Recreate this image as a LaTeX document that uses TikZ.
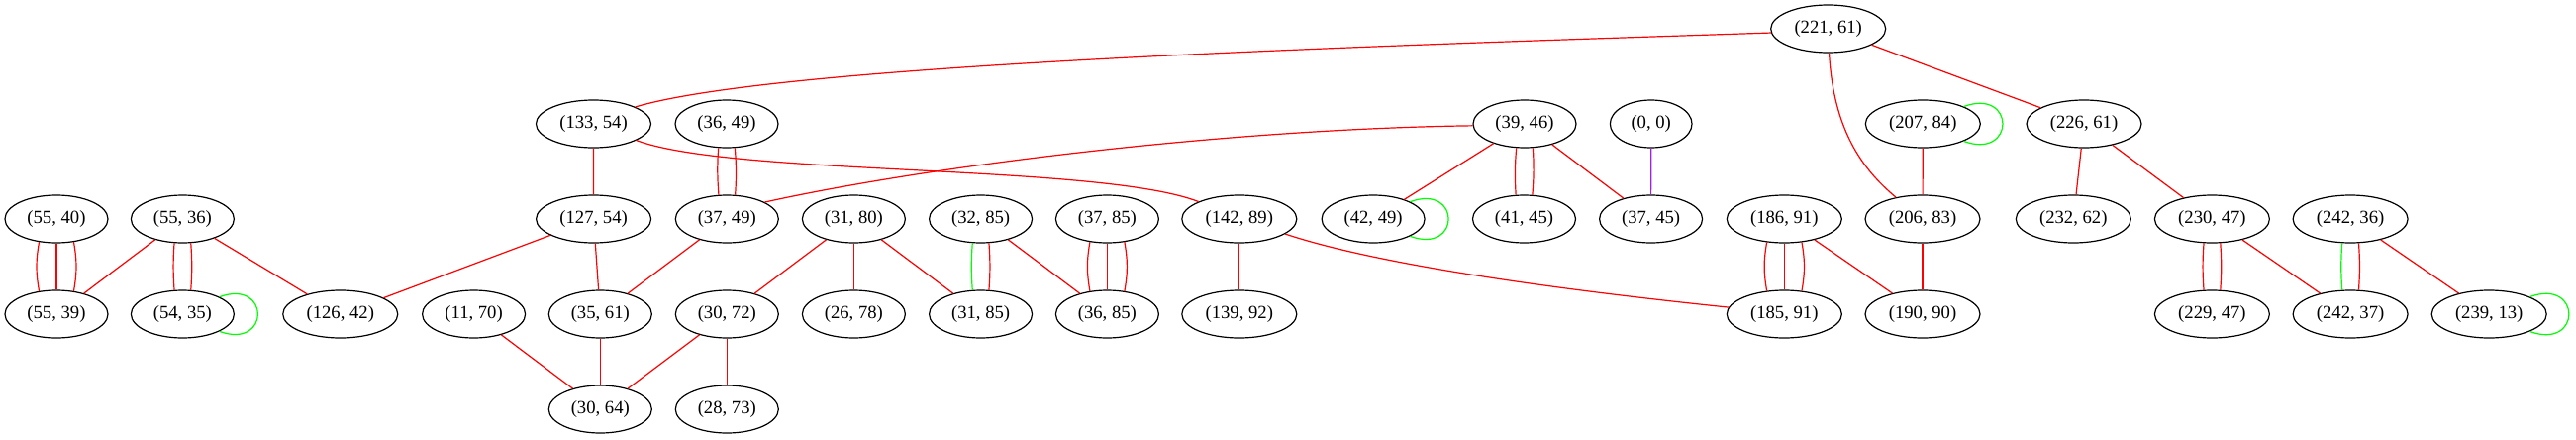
\documentclass[tikz,border=0pt]{standalone}
\usepackage{fontspec}
\setmainfont{Liberation Serif}
\usetikzlibrary{shapes.geometric}
\definecolor{ered}{HTML}{FF0000}
\definecolor{egreen}{HTML}{00FF00}
\definecolor{epurple}{HTML}{A020F0}
\begin{document}
\begin{tikzpicture}[x=0.75pt,y=0.75pt,
  nd/.style={ellipse,draw,line width=0.9pt,minimum height=36pt,minimum width=78pt,inner sep=0pt,font=\fontsize{14}{16}\selectfont},
  wd/.style={nd,minimum width=87pt},
  sm/.style={nd,minimum width=62pt},
  re/.style={draw=ered,line width=0.9pt},
  ge/.style={draw=egreen,line width=0.9pt},
  pe/.style={draw=epurple,line width=0.9pt}]
\useasboundingbox (0,0) rectangle (2602,-443);
% row 0
\node[wd] (n221x61) at (1846.7,-29) {(221, 61)};
% row 1
\node[wd] (n133x54) at (599.5,-125) {(133, 54)};
\node[nd] (n36x49) at (734,-125) {(36, 49)};
\node[nd] (n39x46) at (1540,-125) {(39, 46)};
\node[sm] (n0x0) at (1667.7,-125) {(0, 0)};
\node[wd] (n207x84) at (1942.3,-125) {(207, 84)};
\node[wd] (n226x61) at (2105,-125) {(226, 61)};
% row 2
\node[nd] (n55x40) at (57,-221) {(55, 40)};
\node[nd] (n55x36) at (184.4,-221) {(55, 36)};
\node[wd] (n127x54) at (599.6,-221) {(127, 54)};
\node[nd] (n37x49) at (734.3,-221) {(37, 49)};
\node[nd] (n31x80) at (862.4,-221) {(31, 80)};
\node[nd] (n32x85) at (990.6,-221) {(32, 85)};
\node[nd] (n37x85) at (1118.4,-221) {(37, 85)};
\node[wd] (n142x89) at (1251.8,-221) {(142, 89)};
\node[nd] (n42x49) at (1387.1,-221) {(42, 49)};
\node[nd] (n41x45) at (1539.5,-221) {(41, 45)};
\node[nd] (n37x45) at (1667.6,-221) {(37, 45)};
\node[wd] (n186x91) at (1802.3,-221) {(186, 91)};
\node[wd] (n206x83) at (1942,-221) {(206, 83)};
\node[wd] (n232x62) at (2094.3,-221) {(232, 62)};
\node[wd] (n230x47) at (2234.4,-221) {(230, 47)};
\node[wd] (n242x36) at (2374.1,-221) {(242, 36)};
% row 3
\node[nd] (n55x39) at (57,-317) {(55, 39)};
\node[nd] (n54x35) at (184.4,-317) {(54, 35)};
\node[wd] (n126x42) at (343.75,-317) {(126, 42)};
\node[nd] (n11x70) at (478.6,-317) {(11, 70)};
\node[nd] (n35x61) at (606.3,-317) {(35, 61)};
\node[nd] (n30x72) at (734.3,-317) {(30, 72)};
\node[nd] (n26x78) at (862.4,-317) {(26, 78)};
\node[nd] (n31x85) at (990.6,-317) {(31, 85)};
\node[nd] (n36x85) at (1118.4,-317) {(36, 85)};
\node[wd] (n139x92) at (1251.8,-317) {(139, 92)};
\node[wd] (n185x91) at (1802.3,-317) {(185, 91)};
\node[wd] (n190x90) at (1942,-317) {(190, 90)};
\node[wd] (n229x47) at (2234.4,-317) {(229, 47)};
\node[wd] (n242x37) at (2374.1,-317) {(242, 37)};
\node[wd] (n239x13) at (2514.2,-317) {(239, 13)};
% row 4
\node[nd] (n30x64) at (606.3,-413) {(30, 64)};
\node[nd] (n28x73) at (734.3,-413) {(28, 73)};

% curved long edges
\draw[re] (n221x61.184) .. controls (1400,-46) and (790,-64) .. (n133x54.22);
\draw[re] (n221x61.272) .. controls (1852,-130) and (1880,-170) .. (n206x83.141);
\draw[re] (n133x54.339) .. controls (740,-178) and (1110,-165) .. (n142x89.157);
\draw[re] (n39x46.182) .. controls (1250,-130) and (950,-165) .. (n37x49.24);
\draw[re] (n142x89.342) .. controls (1400,-270) and (1600,-295) .. (n185x91.173);

% straight single edges
\draw[re] (n221x61) -- (n226x61);
\draw[re] (n133x54) -- (n127x54);
\draw[re] (n39x46) -- (n42x49);
\draw[re] (n39x46) -- (n37x45);
\draw[pe] (n0x0) -- (n37x45);
\draw[re] (n207x84) -- (n206x83);
\draw[re] (n226x61) -- (n232x62);
\draw[re] (n226x61) -- (n230x47);
\draw[re] (n55x36) -- (n55x39);
\draw[re] (n55x36) -- (n126x42);
\draw[re] (n127x54) -- (n126x42);
\draw[re] (n127x54) -- (n35x61);
\draw[re] (n37x49) -- (n35x61);
\draw[re] (n31x80) -- (n30x72);
\draw[re] (n31x80) -- (n26x78);
\draw[re] (n31x80) -- (n31x85);
\draw[re] (n32x85) -- (n36x85);
\draw[re] (n142x89) -- (n139x92);
\draw[re] (n186x91) -- (n190x90);
\draw[re] (n206x83) -- (n190x90);
\draw[re] (n230x47) -- (n242x37);
\draw[re] (n242x36) -- (n239x13);
\draw[re] (n11x70) -- (n30x64);
\draw[re] (n35x61) -- (n30x64);
\draw[re] (n30x72) -- (n30x64);
\draw[re] (n30x72) -- (n28x73);

% double edges
\draw[re] (n36x49.251) to[bend right=4] (n37x49.109);
\draw[re] (n36x49.289) to[bend left=4] (n37x49.71);
\draw[re] (n39x46.251) to[bend right=4] (n41x45.109);
\draw[re] (n39x46.289) to[bend left=4] (n41x45.71);
\draw[re] (n55x36.251) to[bend right=4] (n54x35.109);
\draw[re] (n55x36.289) to[bend left=4] (n54x35.71);
\draw[ge] (n32x85.251) to[bend right=4] (n31x85.109);
\draw[re] (n32x85.289) to[bend left=4] (n31x85.71);
\draw[re] (n230x47.251) to[bend right=4] (n229x47.109);
\draw[re] (n230x47.289) to[bend left=4] (n229x47.71);
\draw[ge] (n242x36.251) to[bend right=4] (n242x37.109);
\draw[re] (n242x36.289) to[bend left=4] (n242x37.71);

% triple edges
\draw[re] (n55x40.233) to[bend right=10] (n55x39.127);
\draw[re] (n55x40) -- (n55x39);
\draw[re] (n55x40.307) to[bend left=10] (n55x39.53);
\draw[re] (n37x85.233) to[bend right=10] (n36x85.127);
\draw[re] (n37x85) -- (n36x85);
\draw[re] (n37x85.307) to[bend left=10] (n36x85.53);
\draw[re] (n186x91.233) to[bend right=10] (n185x91.127);
\draw[re] (n186x91) -- (n185x91);
\draw[re] (n186x91.307) to[bend left=10] (n185x91.53);

% self loops
\draw[ge] (n207x84.23) .. controls +(20:56) and +(-20:56) .. (n207x84.337);
\draw[ge] (n54x35.25) .. controls +(20:55) and +(-20:55) .. (n54x35.335);
\draw[ge] (n42x49.25) .. controls +(20:55) and +(-20:55) .. (n42x49.335);
\draw[ge] (n239x13.23) .. controls +(20:56) and +(-20:56) .. (n239x13.337);
\end{tikzpicture}
\end{document}
